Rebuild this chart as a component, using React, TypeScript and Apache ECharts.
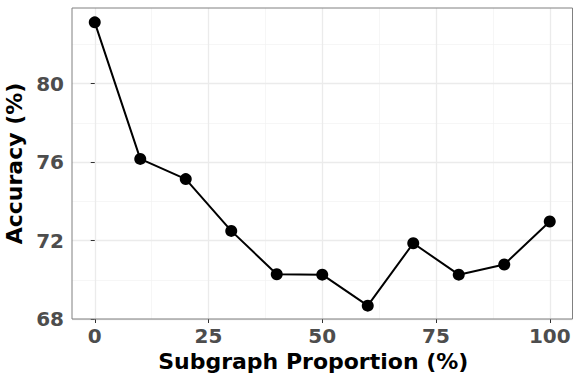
import React, { useEffect, useRef } from "react";
import * as echarts from "echarts";

const proportions = [0, 10, 20, 30, 40, 50, 60, 70, 80, 90, 100];
const accuracy = [83.12, 76.16, 75.13, 72.49, 70.28, 70.26, 68.68, 71.86, 70.26, 70.78, 72.97];
const xTicks = [0, 25, 50, 75, 100];
const xMinor = [12.5, 37.5, 62.5, 87.5];
const yTicks = [68, 72, 76, 80];
const yMinor = [70, 74, 78, 82];

export default function App() {
  const ref = useRef<HTMLDivElement>(null);
  useEffect(() => {
    if (!ref.current) return;
    const chart = echarts.init(ref.current, undefined, { renderer: "svg" });
    const font = "DejaVu Sans";
    const major = { color: "#ebebeb", width: 1.3, type: "solid" as const };
    const minor = { color: "#f2f2f2", width: 0.7, type: "solid" as const };
    const gridLines = [
      ...xMinor.map((v) => ({ xAxis: v, lineStyle: minor })),
      ...yMinor.map((v) => ({ yAxis: v, lineStyle: minor })),
      ...xTicks.map((v) => ({ xAxis: v, lineStyle: major })),
      ...yTicks.map((v) => ({ yAxis: v, lineStyle: major })),
    ];
    chart.setOption({
      animation: false,
      grid: {
        left: 72,
        right: 8.5,
        top: 8,
        bottom: 63,
        outerBoundsMode: "none",
        containLabel: false,
        show: true,
        borderColor: "#808080",
        borderWidth: 1,
        backgroundColor: "transparent",
        z: 10,
      },
      xAxis: {
        type: "value",
        min: -5,
        max: 105,
        name: "Subgraph Proportion (%)",
        nameLocation: "middle",
        nameGap: 27,
        nameTextStyle: {
          fontFamily: font,
          fontWeight: "bold",
          fontSize: 22,
          color: "#000",
          padding: [0, 18, 0, 0],
        },
        axisLine: { show: false },
        splitLine: { show: false },
        axisTick: { show: true, length: 4, customValues: xTicks, lineStyle: { color: "#333", width: 1 } },
        axisLabel: {
          customValues: xTicks,
          margin: 7,
          fontFamily: font,
          fontWeight: "bold",
          fontSize: 20,
          color: "#4d4d4d",
        },
      },
      yAxis: {
        type: "value",
        min: 68,
        max: 83.85,
        name: "Accuracy (%)",
        nameLocation: "middle",
        nameGap: 42,
        nameTextStyle: { fontFamily: font, fontWeight: "bold", fontSize: 22, color: "#000" },
        axisLine: { show: false },
        splitLine: { show: false },
        axisTick: { show: true, length: 4, customValues: yTicks, lineStyle: { color: "#333", width: 1 } },
        axisLabel: {
          customValues: yTicks,
          margin: 8,
          fontFamily: font,
          fontWeight: "bold",
          fontSize: 20,
          color: "#4d4d4d",
        },
      },
      series: [
        {
          type: "line",
          data: [],
          z: 0,
          silent: true,
          markLine: {
            silent: true,
            symbol: ["none", "none"],
            label: { show: false },
            z: 0,
            data: gridLines,
          },
        },
        {
          type: "line",
          z: 5,
          data: proportions.map((p, i) => [p, accuracy[i]]),
          symbol: "circle",
          symbolSize: 12,
          itemStyle: { color: "#000" },
          lineStyle: { color: "#000", width: 2 },
        },
      ],
    });
    return () => chart.dispose();
  }, []);
  return (
    <div
      ref={ref}
      style={{ position: "fixed", left: 0, top: 0, width: 581, height: 382, background: "#fff" }}
    />
  );
}
